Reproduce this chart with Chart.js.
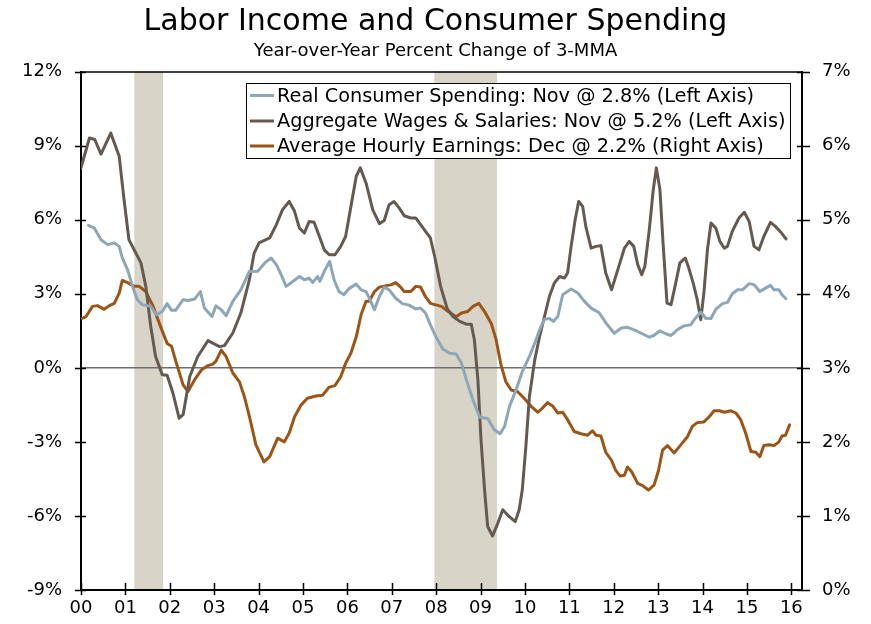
<!DOCTYPE html>
<html>
<head>
<meta charset="utf-8">
<script src="https://cdn.jsdelivr.net/npm/chart.js@4"></script>
<style>
  html, body { margin: 0; padding: 0; background: #ffffff; }
  #wrap { width: 871px; height: 624px; }
</style>
</head>
<body>
<div id="wrap"><canvas id="c" width="871" height="624"></canvas></div>
<script>
// ---------- DATA (x = years since Jan 2000) ----------
const titleText = 'Labor Income and Consumer Spending';
const subtitleText = 'Year-over-Year Percent Change of 3-MMA';

const xTickYears = [0,1,2,3,4,5,6,7,8,9,10,11,12,13,14,15,16];
const xTickLabels = ['00','01','02','03','04','05','06','07','08','09','10','11','12','13','14','15','16'];
const leftTicks = [-9,-6,-3,0,3,6,9,12];
const rightTicks = [0,1,2,3,4,5,6,7];

const recessions = [[1.20, 1.85], [7.96, 9.37]];

const spendLabel = 'Real Consumer Spending: Nov @ 2.8% (Left Axis)';
const spendX = [0.17,0.30,0.45,0.60,0.75,0.86,0.93,1.05,1.16,1.27,1.38,1.57,1.70,1.83,1.94,2.04,2.13,2.30,2.41,2.56,2.69,2.78,2.95,3.04,3.16,3.27,3.42,3.60,3.79,3.98,4.14,4.28,4.40,4.51,4.62,4.77,4.92,5.03,5.14,5.22,5.33,5.38,5.48,5.60,5.70,5.81,5.92,6.05,6.20,6.31,6.42,6.51,6.61,6.72,6.83,6.94,7.09,7.24,7.39,7.54,7.65,7.76,7.87,7.99,8.15,8.30,8.45,8.57,8.68,8.83,8.98,9.16,9.31,9.44,9.54,9.65,9.80,9.94,10.10,10.25,10.33,10.44,10.55,10.64,10.74,10.85,11.04,11.19,11.34,11.49,11.67,11.84,12.01,12.17,12.31,12.46,12.61,12.80,12.91,13.04,13.17,13.29,13.43,13.58,13.73,13.84,13.96,14.07,14.19,14.30,14.45,14.56,14.67,14.79,14.90,15.05,15.16,15.29,15.42,15.53,15.61,15.72,15.79,15.88];
const spendValues = [5.77,5.66,5.19,4.99,5.06,4.92,4.45,3.97,3.30,2.76,2.56,2.49,2.15,2.28,2.60,2.33,2.33,2.76,2.73,2.79,3.09,2.42,2.08,2.51,2.35,2.11,2.69,3.16,3.90,3.91,4.25,4.45,4.18,3.77,3.30,3.50,3.70,3.57,3.63,3.46,3.70,3.50,3.91,4.31,3.57,3.09,2.96,3.23,3.39,3.16,3.09,2.76,2.35,2.89,3.27,3.16,2.82,2.60,2.54,2.38,2.42,2.22,1.74,1.27,0.76,0.59,0.56,0.19,-0.49,-1.30,-2.00,-2.05,-2.51,-2.67,-2.38,-1.57,-0.89,-0.15,0.46,1.14,1.54,1.97,2.00,1.88,2.08,2.96,3.19,3.03,2.69,2.42,2.23,1.78,1.40,1.61,1.64,1.54,1.41,1.24,1.32,1.50,1.38,1.31,1.54,1.70,1.74,2.01,2.26,2.01,2.00,2.38,2.60,2.65,3.00,3.16,3.16,3.41,3.37,3.09,3.23,3.34,3.16,3.16,2.96,2.80];

const wagesLabel = 'Aggregate Wages & Salaries: Nov @ 5.2% (Left Axis)';
const wagesX = [0.00,0.19,0.31,0.45,0.67,0.86,0.97,1.08,1.35,1.46,1.57,1.68,1.83,1.94,2.07,2.21,2.30,2.45,2.63,2.86,3.12,3.23,3.42,3.60,3.79,3.90,4.01,4.25,4.40,4.54,4.69,4.81,4.92,5.03,5.14,5.25,5.37,5.48,5.59,5.72,5.85,5.96,6.08,6.20,6.29,6.42,6.57,6.72,6.83,6.94,7.05,7.17,7.28,7.43,7.54,7.65,7.76,7.87,7.97,8.10,8.25,8.38,8.53,8.68,8.79,8.86,8.94,9.01,9.09,9.16,9.27,9.39,9.50,9.65,9.78,9.87,9.94,10.02,10.10,10.22,10.33,10.44,10.55,10.66,10.78,10.89,10.96,11.04,11.13,11.21,11.30,11.37,11.49,11.60,11.71,11.82,11.95,12.09,12.24,12.35,12.45,12.54,12.63,12.70,12.80,12.89,12.96,13.04,13.11,13.20,13.29,13.38,13.49,13.61,13.69,13.79,13.88,13.96,14.03,14.11,14.19,14.30,14.39,14.49,14.56,14.67,14.82,14.94,15.05,15.16,15.27,15.38,15.53,15.64,15.78,15.88];
const wagesValues = [8.10,9.31,9.25,8.66,9.51,8.57,6.81,5.19,4.25,3.30,1.68,0.46,-0.28,-0.30,-1.02,-2.04,-1.90,-0.35,0.46,1.10,0.86,0.90,1.41,2.22,3.55,4.65,5.06,5.26,5.80,6.41,6.74,6.34,5.66,5.46,5.93,5.90,5.32,4.78,4.58,4.58,4.92,5.32,6.54,7.76,8.10,7.49,6.41,5.84,5.97,6.61,6.74,6.47,6.16,6.07,6.07,5.80,5.53,5.26,4.48,3.30,2.39,2.08,1.88,1.77,1.77,1.14,-0.49,-2.92,-4.94,-6.43,-6.81,-6.29,-5.75,-6.03,-6.23,-5.75,-4.94,-3.19,-1.16,0.32,1.27,2.08,2.89,3.43,3.70,3.64,3.84,4.92,6.00,6.74,6.54,5.73,4.85,4.92,4.95,3.84,3.16,3.97,4.85,5.12,4.92,4.18,3.77,4.11,5.59,7.22,8.10,7.22,5.06,2.62,2.56,3.30,4.25,4.45,4.04,3.43,2.76,1.95,3.03,4.78,5.87,5.66,5.12,4.85,4.92,5.53,6.07,6.30,5.93,4.92,4.78,5.32,5.89,5.73,5.46,5.22];

const aheLabel = 'Average Hourly Earnings: Dec @ 2.2% (Right Axis)';
const aheX = [0.00,0.11,0.26,0.37,0.52,0.64,0.75,0.86,0.93,1.05,1.20,1.31,1.46,1.61,1.79,1.94,2.04,2.15,2.30,2.41,2.56,2.71,2.86,2.97,3.04,3.16,3.27,3.42,3.57,3.68,3.79,3.94,4.12,4.25,4.43,4.58,4.69,4.81,4.96,5.10,5.29,5.44,5.59,5.72,5.85,5.96,6.08,6.20,6.31,6.42,6.49,6.61,6.72,6.87,6.98,7.09,7.20,7.28,7.43,7.54,7.65,7.76,7.87,7.99,8.12,8.27,8.45,8.57,8.71,8.83,8.96,9.09,9.24,9.35,9.46,9.57,9.69,9.83,9.98,10.14,10.29,10.40,10.51,10.63,10.74,10.85,10.96,11.11,11.26,11.41,11.52,11.60,11.71,11.82,11.95,12.04,12.14,12.24,12.31,12.40,12.54,12.65,12.78,12.91,13.01,13.10,13.21,13.36,13.51,13.66,13.77,13.88,14.03,14.15,14.26,14.38,14.49,14.64,14.75,14.86,14.97,15.09,15.20,15.29,15.38,15.49,15.61,15.72,15.79,15.87,15.96];
const aheValues = [3.66,3.69,3.83,3.84,3.79,3.84,3.87,4.01,4.18,4.15,4.10,4.10,4.03,3.85,3.56,3.33,3.29,3.06,2.77,2.68,2.84,2.97,3.03,3.05,3.09,3.24,3.15,2.93,2.81,2.61,2.35,1.96,1.73,1.80,2.05,2.00,2.12,2.34,2.50,2.59,2.62,2.63,2.74,2.76,2.88,3.06,3.20,3.42,3.72,3.90,3.90,4.03,4.09,4.11,4.12,4.15,4.09,4.03,4.03,4.10,4.09,3.96,3.87,3.85,3.83,3.76,3.69,3.74,3.76,3.83,3.87,3.76,3.60,3.38,3.04,2.81,2.70,2.68,2.59,2.48,2.40,2.46,2.53,2.48,2.39,2.40,2.30,2.14,2.11,2.09,2.15,2.09,2.08,1.86,1.75,1.62,1.54,1.55,1.66,1.60,1.44,1.41,1.35,1.42,1.62,1.89,1.95,1.85,1.96,2.07,2.21,2.26,2.27,2.34,2.42,2.42,2.40,2.42,2.39,2.30,2.12,1.87,1.86,1.80,1.95,1.96,1.95,2.00,2.08,2.09,2.23];

// ---------- STYLE ----------
const FONT = 'DejaVu Sans';
const colSpend = '#8da7b7';
const colWages = '#645a51';
const colAhe = '#9c5516';
const colRecession = '#d9d4c8';

function pts(xs, ys) { return xs.map((x, i) => ({ x: x, y: ys[i] })); }

const decorPlugin = {
  id: 'decor',
  beforeDraw(chart) {
    const { ctx, chartArea: a, scales } = chart;
    ctx.save();
    ctx.fillStyle = colRecession;
    recessions.forEach(([s, e]) => {
      const x1 = scales.x.getPixelForValue(s);
      const x2 = scales.x.getPixelForValue(e);
      ctx.fillRect(x1, a.top, x2 - x1, a.bottom - a.top);
    });
    ctx.restore();
  },
  afterDatasetsDraw(chart) {
    const { ctx, chartArea: a, scales } = chart;
    ctx.save();
    ctx.strokeStyle = '#000';
    // top border
    ctx.lineWidth = 1.5;
    ctx.beginPath();
    ctx.moveTo(a.left, a.top + 0.5);
    ctx.lineTo(a.right, a.top + 0.5);
    ctx.stroke();
    // crossing tick marks
    ctx.lineWidth = 1.5;
    ctx.beginPath();
    leftTicks.forEach(v => {
      const y = Math.round(scales.y.getPixelForValue(v)) + 0.5;
      ctx.moveTo(a.left - 6, y); ctx.lineTo(a.left + 5, y);
    });
    rightTicks.forEach(v => {
      const y = Math.round(scales.y2.getPixelForValue(v)) + 0.5;
      ctx.moveTo(a.right - 5, y); ctx.lineTo(a.right + 8, y);
    });
    xTickYears.forEach(v => {
      const x = Math.round(scales.x.getPixelForValue(v)) + 0.5;
      ctx.moveTo(x, a.bottom - 7); ctx.lineTo(x, a.bottom + 5);
    });
    ctx.stroke();

    // legend box
    const bx = 246, by = 83, bw = 544, bh = 75;
    ctx.fillStyle = '#ffffff';
    ctx.fillRect(bx, by, bw, bh);
    ctx.lineWidth = 1;
    ctx.strokeStyle = '#000';
    ctx.strokeRect(bx + 0.5, by + 0.5, bw, bh);
    const rows = [95.5, 121, 146];
    ctx.font = '19.3px "' + FONT + '"';
    ctx.textBaseline = 'middle';
    ctx.textAlign = 'left';
    chart.data.datasets.forEach((ds, i) => {
      const ry = rows[i];
      ctx.strokeStyle = ds.borderColor;
      ctx.lineWidth = 3;
      ctx.beginPath();
      ctx.moveTo(bx + 4, ry); ctx.lineTo(bx + 28, ry);
      ctx.stroke();
      ctx.fillStyle = '#000';
      ctx.fillText(ds.label, bx + 31, ry + 1);
    });
    ctx.restore();
  }
};

const tickFont = { family: FONT, size: 18 };

new Chart(document.getElementById('c'), {
  type: 'line',
  data: {
    datasets: [
      { label: spendLabel, data: pts(spendX, spendValues), borderColor: colSpend, yAxisID: 'y' },
      { label: wagesLabel, data: pts(wagesX, wagesValues), borderColor: colWages, yAxisID: 'y' },
      { label: aheLabel, data: pts(aheX, aheValues), borderColor: colAhe, yAxisID: 'y2' }
    ]
  },
  options: {
    responsive: false,
    animation: false,
    devicePixelRatio: 1,
    layout: { padding: { top: 4, left: 0, right: 0, bottom: 0 } },
    elements: {
      line: { borderWidth: 3, tension: 0, fill: false, borderCapStyle: 'round', borderJoinStyle: 'round' },
      point: { radius: 0, hoverRadius: 0 }
    },
    plugins: {
      legend: { display: false },
      tooltip: { enabled: false },
      title: {
        display: true, text: titleText, color: '#000',
        font: { family: FONT, size: 30, weight: 'normal' },
        padding: { top: 0, bottom: 1 }
      },
      subtitle: {
        display: true, text: subtitleText, color: '#000',
        font: { family: FONT, size: 18, weight: 'normal' },
        padding: { top: 0, bottom: 9 }
      }
    },
    scales: {
      x: {
        type: 'linear', min: 0, max: 16.24,
        afterBuildTicks: s => { s.ticks = xTickYears.map(v => ({ value: v })); },
        afterFit: s => { s.height = 34; },
        grid: { display: false, drawTicks: false },
        border: { display: true, color: '#000', width: 2 },
        ticks: {
          autoSkip: false, maxRotation: 0, padding: 8, color: '#000', font: tickFont,
          callback: (v, i) => xTickLabels[i]
        }
      },
      y: {
        type: 'linear', position: 'left', min: -9, max: 12,
        afterBuildTicks: s => { s.ticks = leftTicks.map(v => ({ value: v })); },
        afterFit: s => { s.width = 81; },
        grid: {
          display: true, drawTicks: false, drawOnChartArea: true,
          color: c => (c.tick && c.tick.value === 0) ? '#6f6f6f' : 'rgba(0,0,0,0)',
          lineWidth: 1.5
        },
        border: { display: true, color: '#000', width: 2 },
        ticks: { padding: 19, color: '#000', font: tickFont, callback: v => v + '%' }
      },
      y2: {
        type: 'linear', position: 'right', min: 0, max: 7,
        afterBuildTicks: s => { s.ticks = rightTicks.map(v => ({ value: v })); },
        afterFit: s => { s.width = 69; },
        grid: { display: false, drawTicks: false },
        border: { display: true, color: '#000', width: 2 },
        ticks: { padding: 20, color: '#000', font: tickFont, callback: v => v + '%' }
      }
    }
  },
  plugins: [decorPlugin]
});
</script>
</body>
</html>
